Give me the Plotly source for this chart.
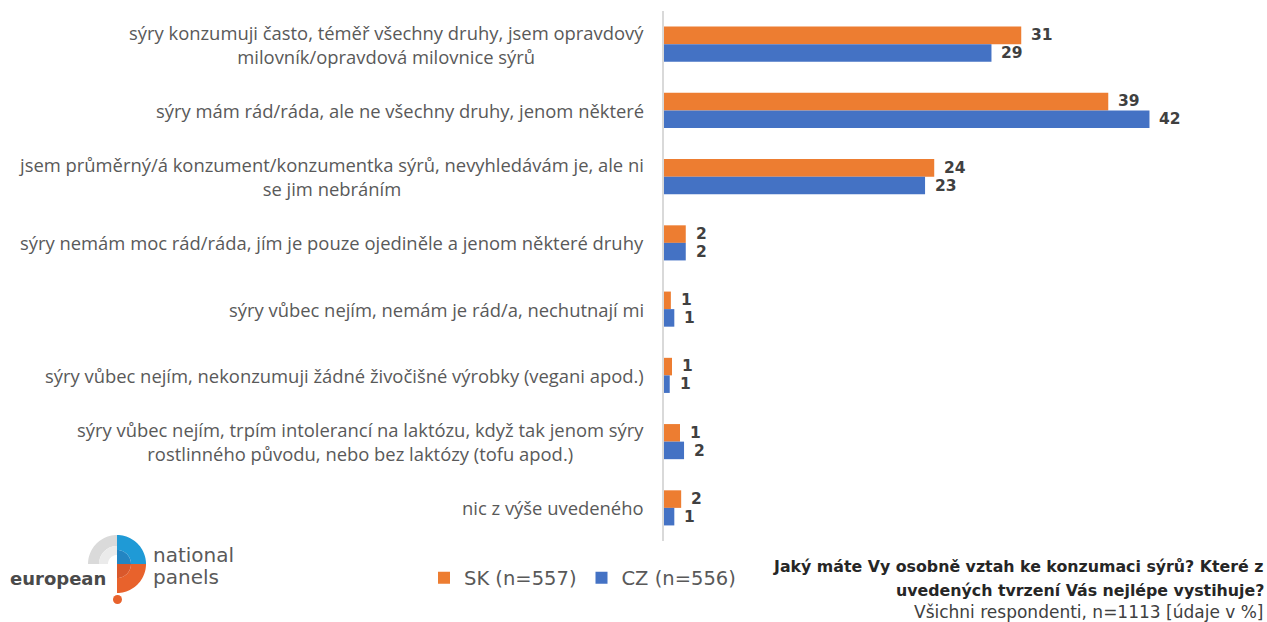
import math
import plotly.graph_objects as go

categories = [
    "sýry konzumuji často, téměř všechny druhy, jsem opravdový<br>milovník/opravdová milovnice sýrů",
    "sýry mám rád/ráda, ale ne všechny druhy, jenom některé",
    "jsem průměrný/á konzument/konzumentka sýrů, nevyhledávám je, ale ni<br>se jim nebráním",
    "sýry nemám moc rád/ráda, jím je pouze ojediněle a jenom některé druhy",
    "sýry vůbec nejím, nemám je rád/a, nechutnají mi",
    "sýry vůbec nejím, nekonzumuji žádné živočišné výrobky (vegani apod.)",
    "sýry vůbec nejím, trpím intolerancí na laktózu, když tak jenom sýry<br>rostlinného původu, nebo bez laktózy (tofu apod.)",
    "nic z výše uvedeného",
]
sk_values = [31.2, 38.8, 23.6, 1.9, 0.6, 0.7, 1.4, 1.5]
cz_values = [28.6, 42.4, 22.8, 1.9, 0.9, 0.5, 1.75, 0.9]
sk_labels = [31, 39, 24, 2, 1, 1, 1, 2]
cz_labels = [29, 42, 23, 2, 1, 1, 2, 1]
series_names = ["SK (n=557)", "CZ (n=556)"]
colors = ["#ED7D31", "#4472C4"]

W, H = 1267, 622
ML, MR, MT, MB = 664, 23, 11, 81
PW = W - ML - MR
PH = H - MT - MB
XMAX = PW / 11.45

FONT = "DejaVu Sans"
FONT2 = "Open Sans"

fig = go.Figure()
ys = list(range(len(categories)))
for name, vals, col in zip(series_names, [sk_values, cz_values], colors):
    fig.add_trace(go.Bar(
        y=ys, x=vals, orientation="h", name=name,
        marker=dict(color=col, line=dict(width=0)),
        hoverinfo="x",
    ))

annotations = []
# category labels
for i, c in enumerate(categories):
    annotations.append(dict(
        xref="paper", yref="y", x=0, y=i, xanchor="right", yanchor="middle",
        xshift=-18, text=c, showarrow=False, align="center",
        font=dict(family=FONT2, size=18.4, color="#595959"),
    ))
# data labels
for vals, labs, ysh in [(sk_values, sk_labels, 9), (cz_values, cz_labels, -9)]:
    for i, (v, l) in enumerate(zip(vals, labs)):
        annotations.append(dict(
            xref="x", yref="y", x=v, y=i, xanchor="left", yanchor="middle",
            xshift=8, yshift=ysh, text=str(l), showarrow=False,
            font=dict(family=FONT, size=15.5, color="#404040", weight="bold"),
        ))


def px_to_paper(px, py):
    return (px - ML) / PW, (H - MB - py) / PH


# title / note bottom right
tx, ty = px_to_paper(1266, 566)
annotations.append(dict(
    xref="paper", yref="paper", x=tx, y=ty, xanchor="right", yanchor="middle",
    text="<b>Jaký máte Vy osobně vztah ke konzumaci sýrů? Které z</b>",
    showarrow=False, font=dict(family=FONT, size=15.8, color="#262626"), align="right"))
tx, ty = px_to_paper(1266, 590)
annotations.append(dict(
    xref="paper", yref="paper", x=tx, y=ty, xanchor="right", yanchor="middle",
    text="<b>uvedených tvrzení Vás nejlépe vystihuje?</b>",
    showarrow=False, font=dict(family=FONT, size=15.8, color="#262626"), align="right"))
tx, ty = px_to_paper(1266, 612)
annotations.append(dict(
    xref="paper", yref="paper", x=tx, y=ty, xanchor="right", yanchor="middle",
    text="Všichni respondenti, n=1113 [údaje v %]",
    showarrow=False, font=dict(family=FONT, size=17, color="#404040"), align="right"))

# logo texts
lx, ly = px_to_paper(8, 578)
annotations.append(dict(xref="paper", yref="paper", x=lx, y=ly, xanchor="left", yanchor="middle",
                        text="<b>european</b>", showarrow=False,
                        font=dict(family=FONT, size=18, color="#4a4a4a")))
lx, ly = px_to_paper(151, 555)
annotations.append(dict(xref="paper", yref="paper", x=lx, y=ly, xanchor="left", yanchor="middle",
                        text="national", showarrow=False,
                        font=dict(family=FONT, size=20, color="#5a5a5a")))
lx, ly = px_to_paper(151, 577)
annotations.append(dict(xref="paper", yref="paper", x=lx, y=ly, xanchor="left", yanchor="middle",
                        text="panels", showarrow=False,
                        font=dict(family=FONT, size=20, color="#5a5a5a")))

shapes = []


def sector(cx, cy, r0, r1, a0, a1, color, n=24):
    pts = []
    for k in range(n + 1):
        a = math.radians(a0 + (a1 - a0) * k / n)
        pts.append((cx + r1 * math.cos(a), cy - r1 * math.sin(a)))
    for k in range(n, -1, -1):
        a = math.radians(a0 + (a1 - a0) * k / n)
        pts.append((cx + r0 * math.cos(a), cy - r0 * math.sin(a)))
    path = ""
    for j, (x, y) in enumerate(pts):
        X, Y = px_to_paper(x, y)
        path += ("M" if j == 0 else "L") + f"{X:.5f},{Y:.5f}"
    path += "Z"
    shapes.append(dict(type="path", xref="paper", yref="paper", path=path,
                       fillcolor=color, line=dict(width=0), layer="above"))


cx, cy = 117, 564
sector(cx, cy, 18, 29, 90, 180, "#dadada")
sector(cx, cy, 9, 18, 90, 180, "#ebebeb")
sector(cx, cy, 14, 29, 0, 90, "#1f9ad6")
sector(cx, cy, 0, 14, 0, 90, "#2385c2")
sector(cx, cy, 14, 29, -90, 0, "#e8622c")
sector(cx, cy, 0, 14, -90, 0, "#d9582b")
x0, y0 = px_to_paper(113, 595)
x1, y1 = px_to_paper(122, 604)
shapes.append(dict(type="circle", xref="paper", yref="paper", x0=x0, y0=y0, x1=x1, y1=y1,
                   fillcolor="#e8622c", line=dict(width=0), layer="above"))

lgx, lgy = px_to_paper(424, 578)

fig.update_layout(
    width=W, height=H,
    margin=dict(l=ML, r=MR, t=MT, b=MB, autoexpand=False),
    paper_bgcolor="white", plot_bgcolor="white",
    barmode="group", bargap=0.47, bargroupgap=0,
    xaxis=dict(range=[0, XMAX], showgrid=False, zeroline=False, showticklabels=False,
               showline=False, fixedrange=True),
    yaxis=dict(autorange="reversed", showgrid=False, zeroline=False, showticklabels=False,
               showline=True, linecolor="#d9d9d9", linewidth=1.5, ticks=""),
    legend=dict(orientation="h", x=lgx, y=lgy, xanchor="left", yanchor="middle",
                font=dict(family=FONT, size=19.5, color="#595959"),
                traceorder="normal", itemclick=False, bgcolor="rgba(0,0,0,0)"),
    annotations=annotations,
    shapes=shapes,
    showlegend=True,
)

fig.write_html("out.html", config={"displayModeBar": False},
               post_script="document.body.style.margin='0';document.body.style.overflow='hidden';")
